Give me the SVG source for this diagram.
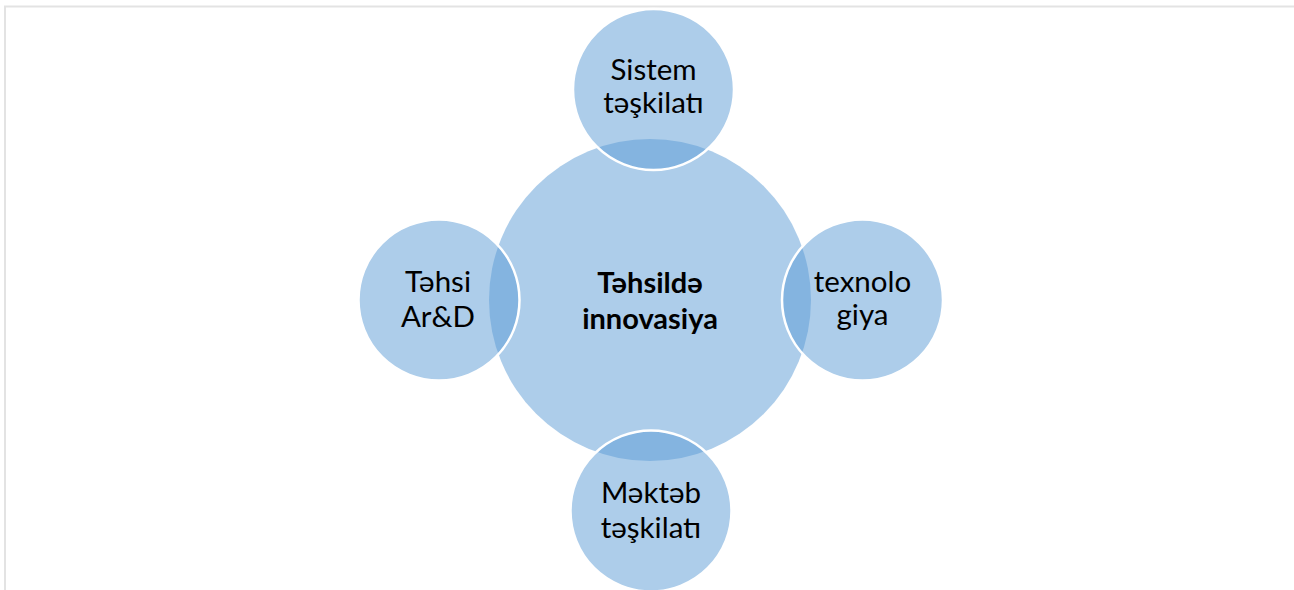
<svg xmlns="http://www.w3.org/2000/svg" width="1294" height="590" viewBox="0 0 1294 590">
  <style>
    .bubble { fill: #5B9BD5; fill-opacity: 0.5; }
    .sat { fill: #5B9BD5; fill-opacity: 0.5; stroke: #ffffff; stroke-width: 2.5; }
    .lbl { font-family: Lato, "Open Sans", "Liberation Sans", sans-serif; font-size: 29.5px; fill: #000000; text-anchor: middle; }
    .bold { font-weight: bold; font-size: 29px; }
    .frame { stroke: #e3e3e3; stroke-width: 2; fill: none; }
  </style>
  <rect x="0" y="0" width="1294" height="590" fill="#ffffff"/>
  <path class="frame" d="M5 590 V6.5 H1294"/>
  <g id="connectors"></g>
  <g id="center">
    <circle class="bubble" cx="650" cy="300" r="161"/>
    <text class="lbl bold" x="650" y="293">Təhsildə</text>
    <text class="lbl bold" x="650" y="329">innovasiya</text>
  </g>
  <g id="top">
    <circle class="sat" cx="653.5" cy="89.5" r="80.5"/>
    <text class="lbl" x="653.5" y="80">Sistem</text>
    <text class="lbl" x="653.5" y="113">təşkilatı</text>
  </g>
  <g id="left">
    <circle class="sat" cx="439" cy="300" r="80.5"/>
    <text class="lbl" x="438" y="292">Təhsi</text>
    <text class="lbl" x="438" y="327">Ar&amp;D</text>
  </g>
  <g id="right">
    <circle class="sat" cx="862.5" cy="300" r="80.5"/>
    <text class="lbl" x="862.5" y="292">texnolo</text>
    <text class="lbl" x="862.5" y="325">giya</text>
  </g>
  <g id="bottom">
    <circle class="sat" cx="651" cy="511" r="80.5"/>
    <text class="lbl" x="651" y="503">Məktəb</text>
    <text class="lbl" x="651" y="538">təşkilatı</text>
  </g>
</svg>
